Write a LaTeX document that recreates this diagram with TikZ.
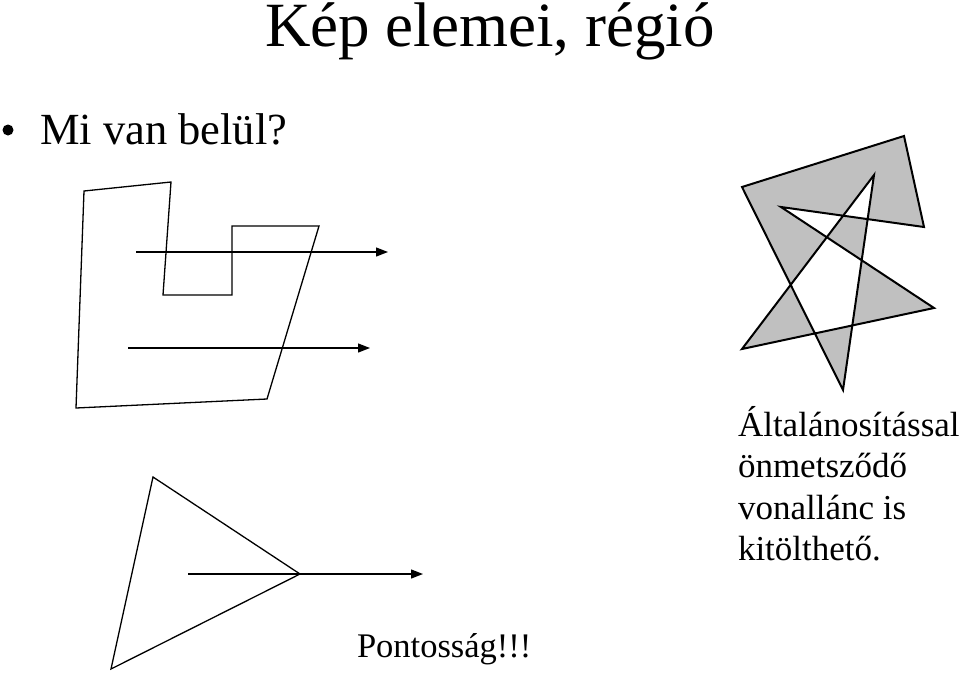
\documentclass[tikz,border=0pt]{standalone}
\usepackage{fontspec}
\setmainfont{Liberation Serif}
\usetikzlibrary{arrows.meta}
\definecolor{stargray}{RGB}{192,192,192}
\tikzset{
  poly/.style={draw=black, line width=1.3pt, line join=miter},
  ray/.style={draw=black, line width=1.3pt, -{Triangle[length=12pt,width=9pt]}},
  txt/.style={anchor=base west, inner sep=0pt, outer sep=0pt, text=black},
}
\begin{document}
\begin{tikzpicture}[x=1pt,y=-1pt]
\useasboundingbox (0,0) rectangle (959,673);
% title and texts
\node[txt, font=\fontsize{63}{70}\selectfont] (title) at (265,46) {Kép elemei, régió};
\node[txt, font=\fontsize{44.5}{50}\selectfont] (q) at (40,144) {Mi van belül?};
\fill (8,130) circle (5.5);
\node[txt, font=\fontsize{35}{41.5}\selectfont, align=left, anchor=north west] (gen) at (738,406)
  {Általánosítással\\önmetsződő\\vonallánc is\\kitölthető.};
\node[txt, font=\fontsize{34.5}{40}\selectfont] (prec) at (357,657) {Pontosság!!!};
% left polygon
\draw[poly] (84,191) -- (171,182) -- (163,295) -- (232,295) -- (232,226) -- (319,226) -- (267,399) -- (76,408) -- cycle;
\coordinate (a1s) at (136,252); \coordinate (a1e) at (388,252);
\coordinate (a2s) at (128,348); \coordinate (a2e) at (370,348);
\draw[ray] (a1s) -- (a1e);
\draw[ray] (a2s) -- (a2e);
% triangle
\draw[poly] (153,477) -- (300,574) -- (111,669) -- cycle;
\coordinate (a3s) at (188,574); \coordinate (a3e) at (423,574);
\draw[ray] (a3s) -- (a3e);
% star polygon
\path[fill=stargray, even odd rule, draw=black, line width=2pt, line join=miter]
  (742,187) -- (904,136) -- (924,227) -- (781,207) -- (934,308) -- (742,349) -- (874,175) -- (843,390) -- cycle;
\end{tikzpicture}
\end{document}
